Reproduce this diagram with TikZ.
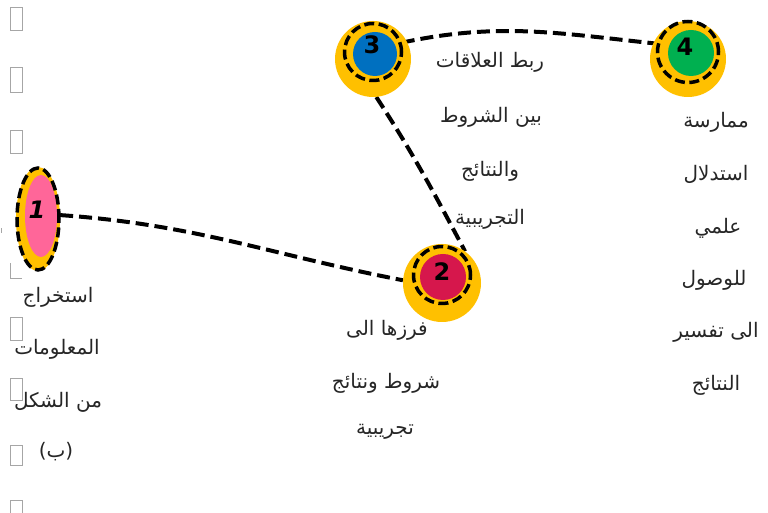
\documentclass[tikz,border=0pt]{standalone}
\usepackage{fontspec}
\setmainfont{DejaVu Sans}
\setsansfont{DejaVu Sans}
\newfontfamily\arabicfont[Script=Arabic]{DejaVu Sans}
\TeXXeTstate=1
\usetikzlibrary{shapes.geometric,backgrounds}
\definecolor{gold}{HTML}{FFC000}
\definecolor{rosepink}{HTML}{FF6699}
\definecolor{crimson}{HTML}{D6174C}
\definecolor{stepblue}{HTML}{0070C0}
\definecolor{stepgreen}{HTML}{00B050}

\begin{document}
\begin{tikzpicture}[
  x=1pt,y=1pt,
  disc/.style={circle,fill=gold,inner sep=0pt},
  ring/.style={circle,draw,line width=3.5pt,dash pattern=on 10pt off 4.5pt,inner sep=0pt},
  core/.style={circle,inner sep=0pt},
  num/.style={font=\sffamily\bfseries\fontsize{24}{24}\selectfont},
  txt/.style={font=\arabicfont\fontsize{20}{22}\selectfont,text=black!85},
  link/.style={line width=4pt,dash pattern=on 13pt off 6pt},
  tofu/.style={draw=gray!70,line width=0.7pt}
]
\useasboundingbox (0,0) rectangle (768,513);

\foreach \ya/\yb in {483/506,421/446,360/383,173/196,113/135,48/68,0/13}
  \draw[tofu] (10,\ya) rectangle (22,\yb);
\draw[tofu] (10,250) |- (22,235);
\draw[tofu] (1,280) -- (1,285);

\node[ellipse,fill=gold,minimum width=44pt,minimum height=104pt,inner sep=0pt] (e1) at (38,294) {};
\node[disc,minimum size=78pt] (d2) at (442,230) {};
\node[disc,minimum size=76pt] (d3) at (373,454) {};
\node[disc,minimum size=76pt] (d4) at (688,454) {};

\node[ellipse,fill=rosepink,minimum width=32pt,minimum height=82pt,inner sep=0pt] (c1) at (41,297) {};
\node[ellipse,draw,line width=3.5pt,dash pattern=on 10pt off 4.5pt,minimum width=42pt,minimum height=102pt,inner sep=0pt] (r1) at (38,294) {};
\node[core,fill=crimson,minimum size=46pt] (c2) at (443,236) {};
\node[ring,minimum size=57pt] (r2) at (442,238) {};
\node[core,fill=stepblue,minimum size=44pt] (c3) at (375,459) {};
\node[ring,minimum size=57pt] (r3) at (373,461) {};
\node[core,fill=stepgreen,minimum size=46pt] (c4) at (691,460) {};
\node[ring,minimum size=61pt] (r4) at (688,461) {};

\node[num,font=\sffamily\bfseries\itshape\fontsize{24}{24}\selectfont] (k1) at (37,303) {1};
\node[num] (k2) at (442,241) {2};
\node[num] (k3) at (372,468) {3};
\node[num] (k4) at (685,466) {4};

\begin{pgfonlayer}{background}
\draw[link] (e1.10) to[out=-4,in=169] (d2.176);
\draw[link] (d3.-85) to[out=-57,in=118] (d2.54);
\draw[link] (r3.18) to[out=12,in=174] (r4.165);
\end{pgfonlayer}

\node[txt] (t1a) at (58,216) {\beginR استخراج\endR};
\node[txt] (t1b) at (57,164) {\beginR المعلومات\endR};
\node[txt] (t1c) at (58,111) {\beginR من الشكل\endR};
\node[txt] (t1d) at (56,61) {(ب)};

\node[txt] (t2a) at (387,183) {\beginR فرزها الى\endR};
\node[txt] (t2b) at (386,130) {\beginR شروط ونتائج\endR};
\node[txt] (t2c) at (385,81) {\beginR تجريبية\endR};

\node[txt] (t3a) at (490,451) {\beginR ربط العلاقات\endR};
\node[txt] (t3b) at (491,396) {\beginR بين الشروط\endR};
\node[txt] (t3c) at (490,342) {\beginR والنتائج\endR};
\node[txt] (t3d) at (490,294) {\beginR التجريبية\endR};

\node[txt] (t4a) at (716,391) {\beginR ممارسة\endR};
\node[txt] (t4b) at (716,339) {\beginR استدلال\endR};
\node[txt] (t4c) at (718,285) {\beginR علمي\endR};
\node[txt] (t4d) at (714,233) {\beginR للوصول\endR};
\node[txt] (t4e) at (716,181) {\beginR الى تفسير\endR};
\node[txt] (t4f) at (716,128) {\beginR النتائج\endR};
\end{tikzpicture}
\end{document}
